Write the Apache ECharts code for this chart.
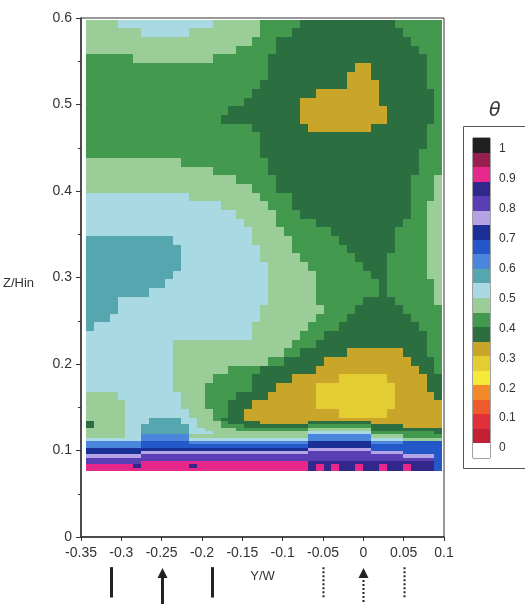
<!DOCTYPE html>
<html>
<head>
<meta charset="utf-8">
<script src="https://cdn.jsdelivr.net/npm/echarts@6/dist/echarts.min.js"></script>
<style>
  html, body { margin: 0; padding: 0; background: #fff; }
  #main { width: 525px; height: 604px; }
</style>
</head>
<body>
<div id="main"></div>
<script>
// theta value for each band letter (middle of the 0.05 band)
var codeTheta = {
  Y: 0.275, O: 0.325, D: 0.375, G: 0.425, L: 0.475, B: 0.525, T: 0.575,
  E: 0.625, C: 0.675, X: 0.725, V: 0.775, U: 0.825, N: 0.875, P: 0.925
};

// Z/Hin 0.598 -> 0.138, one row per 0.01, runs of letter+count across Y/W (45 columns)
var upperRows = [
  'L4B12L6G5D12G6',
  'L7B6L9G4D14G5',
  'L21G3D17G4',
  'L19G5D18G3',
  'G6L10G7D20G2',
  'G23D11O2D7G2',
  'G23D10O3D7G2',
  'G22D11O4D6G2',
  'G21D8O8D7G1',
  'G20D7O10D7G1',
  'G18D9O11D6G1',
  'G17D10O11D6G1',
  'G21D7O8D7G2',
  'G22D21G2',
  'G22D21G2',
  'G22D20G3',
  'L12G11D19G3',
  'L16G7D19G3',
  'L19G5D17G3L1',
  'L21G3D17G3L1',
  'B13L9G4D15G3L1',
  'B17L6G3D15G2L2',
  'B19L5G3D14G2L2',
  'B20L4G5D11G3L2',
  'B21L4G6D8G4L2',
  'T11B10L5G6D7G4L2',
  'T12B10L4G7D6G4L2',
  'T12B10L5G7D4G5L2',
  'T12B11L5G7D3G5L2',
  'T11B12L6G7D2G5L2',
  'T10B13L6G8D1G6L1',
  'T8B15L6G8D1G6L1',
  'T4B19L6G6D4G5L1',
  'T4B18L8G4D6G5',
  'T3B19L7G4D8G4',
  'T1B20L7G4D10G3',
  'B21L6G3D13G2',
  'B11L15G3D14G2',
  'B11L14G2D6O7D3G2',
  'B11L12G2D5O11D3G1',
  'B11L7G4D7O13D2G1',
  'B11L5G5D5O6Y6O5D2',
  'B11L4G6D3O5Y10O4D2',
  'L4B8L3G4D4O6Y10O5D1',
  'L5B7L3G3D3O8Y10O6',
  'L5B8L3G2D2O12Y6O7'
];

// thin layers near the floor, Z/Hin 0.138 -> 0.0764
var floorRows = [
  'L5B3T4B2L2G1D3O25',
  'D1L4B3T4B2L3G1D4O6D8O9',
  'D1L4B2T6B1L3G3D8G8D4O5',
  'L5B2T6B2L4G9L8D9',
  'L5B2T6B3L12B8G8D1',
  'L5B2E6L15E8L4G5',
  'B7E6B15E8B4L5',
  'E7C6E15X8E4C5',
  'E7C21X8C9',
  'X28V8C9',
  'X7V21U8V4C5',
  'V7U33V4C1',
  'U44C1',
  'U7P21N16C1',
  'P6N1P6N1P14N1P1N1P1N2P1N2P1N2P1N3C1',
  'P28N1P1N1P1N2P1N2P1N2P1N3C1'
];

// colour scale: lower edges of the bar swatches, and tick labels
var barLevels = [-0.05, 0, 0.05, 0.1, 0.15, 0.2, 0.25, 0.3, 0.35, 0.4, 0.45,
  0.5, 0.55, 0.6, 0.65, 0.7, 0.75, 0.8, 0.85, 0.9, 0.95, 1];
var thetaTicks = [0, 0.1, 0.2, 0.3, 0.4, 0.5, 0.6, 0.7, 0.8, 0.9, 1];

// probe positions shown under the axis
var markerPos = [-0.3125, -0.25, -0.1875, -0.05, 0, 0.05];
var markerArrow = [false, true, false, false, true, false];
var markerDotted = [false, false, false, true, true, true];

var bandColors = [
  '#ffffff', '#c42034', '#e2303a', '#ef5a2a', '#f28a2c', '#f5ea3c', '#e4cc33',
  '#c9a52a', '#2b6e3f', '#43994e', '#9acd98', '#a9dae4', '#56a6b0', '#4a86dc',
  '#2458c8', '#1b3096', '#b4a4e6', '#5a3eb4', '#32288c', '#e6288c', '#961e50', '#202020'
];

var yStart = -0.344, yEnd = 0.098, nCols = 45;
var colW = (yEnd - yStart) / nCols;

var cells = [];
function addRows(rows, zTop, dz) {
  rows.forEach(function (row, i) {
    var z1 = zTop - i * dz, z0 = z1 - dz, c = 0;
    var re = /([A-Z])(\d+)/g, m;
    while ((m = re.exec(row))) {
      var n = +m[2];
      cells.push([yStart + c * colW, yStart + (c + n) * colW, z0, z1, codeTheta[m[1]]]);
      c += n;
    }
  });
}
addRows(upperRows, 0.598, 0.01);
addRows(floorRows, 0.138, 0.00385);

var barData = barLevels.map(function (lo) { return [0, 1, lo, lo + 0.05, lo + 0.025]; });

var pieces = [{ lt: 0, color: bandColors[0] }];
for (var i = 1; i < barLevels.length - 1; i++) {
  pieces.push({ gte: barLevels[i], lt: barLevels[i + 1], color: bandColors[i] });
}
pieces.push({ gte: 1, color: bandColors[bandColors.length - 1] });

// snap cell edges to whole pixels so neighbouring cells meet without seams
function renderCell(params, api) {
  var a = api.coord([api.value(0), api.value(3)]);
  var b = api.coord([api.value(1), api.value(2)]);
  var x0 = Math.round(a[0]), x1 = Math.round(b[0]);
  var y0 = Math.round(a[1]), y1 = Math.round(b[1]);
  return {
    type: 'rect',
    shape: { x: x0, y: y0, width: x1 - x0, height: y1 - y0 },
    style: { fill: api.visual('color') }
  };
}

function renderMarker(params, api) {
  var i = params.dataIndex;
  var x = Math.round(api.coord([api.value(0), 0])[0]) + 0.5;
  var top = api.coord([0, markerArrow[i] ? 0.95 : 0.97])[1];
  var bottom = api.coord([0, markerArrow[i] ? 0 : 0.17])[1];
  var kids = [{
    type: 'line',
    shape: { x1: x, y1: markerArrow[i] ? top + 8 : top, x2: x, y2: bottom },
    style: { stroke: '#222', lineWidth: markerDotted[i] ? 2 : 3, lineDash: markerDotted[i] ? [2, 2] : null }
  }];
  if (markerArrow[i]) {
    kids.push({
      type: 'polygon',
      shape: { points: [[x, top], [x - 5, top + 10], [x + 5, top + 10]] },
      style: { fill: '#222' }
    });
  }
  return { type: 'group', children: kids };
}

var chart = echarts.init(document.getElementById('main'));
var font = 'Liberation Sans, Arial, sans-serif';

chart.setOption({
  animation: false,
  title: {
    text: 'θ', left: 484, top: 97,
    textStyle: { fontSize: 19, fontStyle: 'italic', fontWeight: 'normal', color: '#333', fontFamily: 'DejaVu Sans' }
  },
  grid: [
    { left: 81, right: 81, top: 18, bottom: 67, show: true, borderColor: '#333', borderWidth: 1 },
    { left: 473, top: 138, width: 17, height: 320, show: true, borderColor: '#444', borderWidth: 1 },
    { left: 81, width: 363, top: 566, height: 38 }
  ],
  xAxis: [
    {
      gridIndex: 0, type: 'value', min: -0.35, max: 0.1, interval: 0.05,
      name: 'Y/W', nameLocation: 'middle', nameGap: 33,
      nameTextStyle: { color: '#333', fontSize: 13, fontFamily: font },
      axisLine: { onZero: false, lineStyle: { color: '#333', width: 1.5 } },
      axisTick: { length: 4, lineStyle: { color: '#333' } },
      axisLabel: { color: '#333', fontSize: 14, margin: 9, fontFamily: font },
      splitLine: { show: false }
    },
    { gridIndex: 1, type: 'value', min: 0, max: 1, show: false },
    { gridIndex: 2, type: 'value', min: -0.35, max: 0.1, show: false }
  ],
  yAxis: [
    {
      gridIndex: 0, type: 'value', min: 0, max: 0.6, interval: 0.1,
      axisLine: { onZero: false, lineStyle: { color: '#333', width: 1.5 } },
      axisTick: { length: 5, lineStyle: { color: '#333' } },
      minorTick: { show: true, splitNumber: 2, length: 3, lineStyle: { color: '#333' } },
      axisLabel: { color: '#333', fontSize: 14, margin: 9, fontFamily: font },
      splitLine: { show: false }
    },
    {
      gridIndex: 1, type: 'value', min: -0.05, max: 1.05, show: false
    },
    {
      // label scale of the colour bar
      gridIndex: 1, type: 'value', min: -0.0334, max: 1.0368, position: 'right',
      axisLine: { show: false }, axisTick: { show: false }, splitLine: { show: false },
      axisLabel: { customValues: thetaTicks, color: '#333', fontSize: 12, margin: 9, fontFamily: font }
    },
    { gridIndex: 2, type: 'value', min: 0, max: 1, show: false }
  ],
  visualMap: {
    type: 'piecewise', show: false, dimension: 4, seriesIndex: [0, 1], pieces: pieces
  },
  graphic: [
    { type: 'rect', shape: { x: 463.5, y: 126.5, width: 90, height: 342 }, style: { fill: 'none', stroke: '#555', lineWidth: 1 } },
    { type: 'text', left: 3, top: 277, style: { text: 'Z/Hin', fill: '#333', font: '13px ' + font } }
  ],
  series: [
    {
      type: 'custom', xAxisIndex: 0, yAxisIndex: 0, renderItem: renderCell,
      encode: { x: [0, 1], y: [2, 3] }, data: cells, silent: true
    },
    {
      type: 'custom', xAxisIndex: 1, yAxisIndex: 1, renderItem: renderCell,
      encode: { x: [0, 1], y: [2, 3] }, data: barData, silent: true
    },
    {
      type: 'custom', xAxisIndex: 2, yAxisIndex: 3, renderItem: renderMarker,
      encode: { x: 0 }, data: markerPos.map(function (p) { return [p]; }), silent: true
    }
  ]
});
</script>
</body>
</html>
